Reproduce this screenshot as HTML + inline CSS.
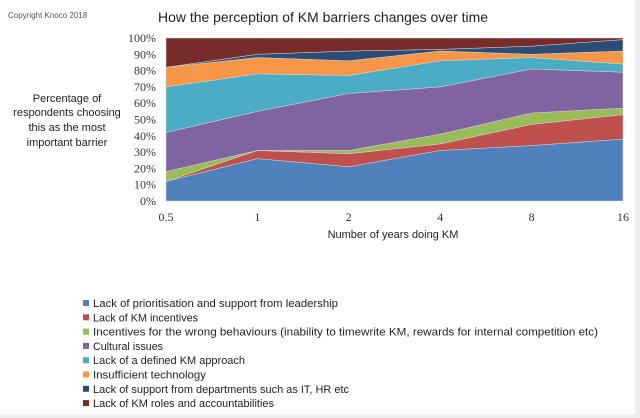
<!DOCTYPE html>
<html><head><meta charset="utf-8">
<style>
html,body{margin:0;padding:0;background:#eeeeee;}
#wrap{position:relative;width:640px;height:418px;overflow:hidden;background:#eeeeee;}
svg{position:absolute;left:0;top:0;}
text{font-family:"Liberation Sans",sans-serif;fill:#222;}
.serif{font-family:"Liberation Serif",serif;fill:#333;}
</style></head>
<body>
<div id="wrap">
<svg id="chart" width="640" height="418" xmlns="http://www.w3.org/2000/svg">
<rect x="0" y="0" width="635" height="414" fill="#ffffff"/>
<text x="8" y="18" font-size="8" style="fill:#555">Copyright Knoco 2018</text>
<text x="158" y="22" font-size="14" textLength="330" lengthAdjust="spacingAndGlyphs">How the perception of KM barriers changes over time</text>
<g font-size="11" text-anchor="middle">
<text x="67" y="102">Percentage of</text>
<text x="67" y="116">respondents choosing</text>
<text x="67" y="131">this as the most</text>
<text x="67" y="146">important barrier</text>
</g>
<g id="areas"></g>
<g id="yticks"></g>
<g id="xticks"></g>
<text x="393" y="238" font-size="11" text-anchor="middle">Number of years doing KM</text>
<g id="legend"></g>
</svg>
</div>
<script>
const categories = ["0.5","1","2","4","8","16"];
const leadership = [12,26,21,31,34,38];
const incentives = [0,5,8,4,13,15];
const wrongBehaviours = [6,0,2,6,7,4];
const cultural = [24,24,35,29,27,22];
const approach = [28,23,11,16,7,5];
const technology = [12,10,9,6,2,8];
const departments = [0,2,6,1,5,7];
const roles = [18,10,8,7,5,1];
const yTickLabels = ["0%","10%","20%","30%","40%","50%","60%","70%","80%","90%","100%"];
const seriesNames = ["Lack of prioritisation and support from leadership","Lack of KM incentives","Incentives for the wrong behaviours (inability to timewrite KM, rewards for internal competition etc)","Cultural issues","Lack of a defined KM approach","Insufficient technology","Lack of support from departments such as IT, HR etc","Lack of KM roles and accountabilities"];

const series = [leadership,incentives,wrongBehaviours,cultural,approach,technology,departments,roles];
const colors = ["#4f81bd","#c0504d","#9bbb59","#8064a2","#4bacc6","#f79646","#2c4d75","#772c2a"];
const legendWidths = [245,105,505,70,152,113,256,181];
const L=166,R=623,T=38,B=201;
const NS="http://www.w3.org/2000/svg";
function xs(i){return L+(R-L)*i/(categories.length-1);}
function ys(v){return B-(B-T)*v/100;}

const areas=document.getElementById('areas');
let base=categories.map(()=>0);
series.forEach((s,k)=>{
  const top=base.map((b,i)=>b+s[i]);
  let d="";
  top.forEach((v,i)=>{d+=(i?"L":"M")+xs(i)+","+ys(v);});
  for(let i=base.length-1;i>=0;i--){d+="L"+xs(i)+","+ys(base[i]);}
  d+="Z";
  const p=document.createElementNS(NS,'path');
  p.setAttribute('d',d);
  p.setAttribute('fill',colors[k]);
  p.setAttribute('stroke','#d8d8d8');
  p.setAttribute('stroke-width','0.5');
  
  
  areas.appendChild(p);
  base=top;
});

const yt=document.getElementById('yticks');
yTickLabels.forEach((lab,i)=>{
  const t=document.createElementNS(NS,'text');
  t.setAttribute('x',156);
  t.setAttribute('y',ys(i*10)+4);
  t.setAttribute('text-anchor','end');
  t.setAttribute('font-size','12');
  t.setAttribute('class','serif');
  t.textContent=lab;
  
  
  yt.appendChild(t);
});
const xt=document.getElementById('xticks');
categories.forEach((c,i)=>{
  const t=document.createElementNS(NS,'text');
  t.setAttribute('x',xs(i));
  t.setAttribute('y',221);
  t.setAttribute('text-anchor','middle');
  t.setAttribute('font-size','12');
  t.setAttribute('class','serif');
  t.textContent=c;
  
  
  xt.appendChild(t);
});
const lg=document.getElementById('legend');
seriesNames.forEach((n,k)=>{
  const cy=303+k*14.3;
  const r=document.createElementNS(NS,'rect');
  r.setAttribute('x',83);r.setAttribute('y',cy-3);
  r.setAttribute('width',6);r.setAttribute('height',6);
  r.setAttribute('fill',colors[k]);
  
  
  lg.appendChild(r);
  const t=document.createElementNS(NS,'text');
  t.setAttribute('x',93);t.setAttribute('y',cy+4);
  t.setAttribute('font-size','11');
  t.setAttribute('textLength',legendWidths[k]);
  t.setAttribute('lengthAdjust','spacingAndGlyphs');
  t.textContent=n;
  
  
  lg.appendChild(t);
});
</script>
</body></html>
